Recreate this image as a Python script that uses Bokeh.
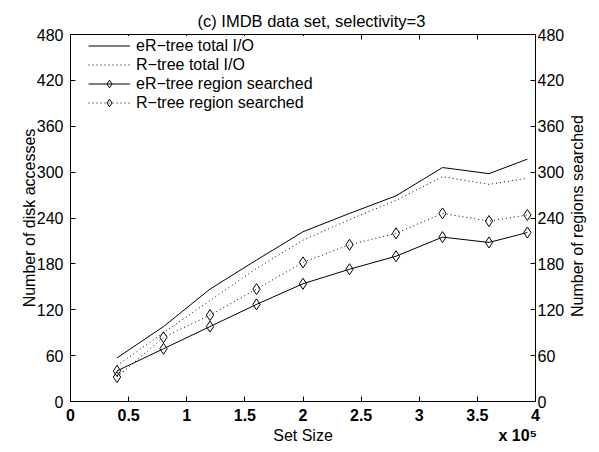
import math
from bokeh.plotting import figure
from bokeh.models import LinearAxis, Range1d, FixedTicker
from bokeh.embed import file_html
from bokeh.resources import INLINE

# ---- data (x in units of 10^5) ----
set_size = [0.4, 0.8, 1.2, 1.6, 2.0, 2.4, 2.8, 3.2, 3.6, 3.93]
er_total_io = [57, 98, 147, 185, 222, 246, 269, 306, 298, 317]
r_total_io = [47, 90, 132, 174, 211, 238, 263, 294, 284, 292]
er_region = [40, 69, 98, 127, 154, 173, 190, 215, 208, 221]
r_region = [32, 84, 113, 147, 182, 205, 220, 246, 236, 244]

x_ticks = [0, 0.5, 1, 1.5, 2, 2.5, 3, 3.5, 4]
x_tick_labels = ["0", "0.5", "1", "1.5", "2", "2.5", "3", "3.5", "4"]
x_exponent = "x 10\u2075"
y_ticks = [0, 60, 120, 180, 240, 300, 360, 420, 480]

FONT = "Liberation Sans"
FS = "16px"
NB = "\u00a0"

p = figure(width=599, height=452, x_range=Range1d(0, 4), y_range=Range1d(0, 480),
           output_backend="svg", toolbar_location=None,
           min_border_left=70, min_border_right=64, min_border_top=34, min_border_bottom=51,
           title="(c) IMDB data set, selectivity=3")
p.extra_y_ranges = {"regions": Range1d(0, 480)}
p.grid.visible = False
p.outline_line_color = "black"
p.background_fill_color = "white"
p.border_fill_color = "white"

p.title.align = "left"
p.title.offset = 127
p.title.standoff = 9
p.title.text_font = FONT
p.title.text_font_size = "16.5px"
p.title.text_font_style = "normal"
p.title.text_color = "black"


def style(ax):
    ax.major_tick_in = 5
    ax.major_tick_out = 0
    ax.minor_tick_in = 0
    ax.minor_tick_out = 0
    ax.axis_line_color = "black"
    ax.major_tick_line_color = "black"
    ax.major_label_text_font = FONT
    ax.major_label_text_font_size = FS
    ax.major_label_text_color = "black"
    ax.axis_label_text_font = FONT
    ax.axis_label_text_font_size = FS
    ax.axis_label_text_font_style = "normal"
    ax.axis_label_text_color = "black"


xa = p.xaxis[0]
style(xa)
xa.ticker = FixedTicker(ticks=x_ticks)
overrides = {t: l for t, l in zip(x_ticks, x_tick_labels)}
# the x 10^5 multiplier sits under the last tick, as in the original
overrides[x_ticks[-1]] = x_tick_labels[-1] + "\n" + x_exponent + NB * 8
xa.major_label_overrides = overrides
xa.major_label_text_font_style = "bold"
xa.major_label_standoff = 5
xa.axis_label = "Set Size"
xa.axis_label_standoff = -20

ya = p.yaxis[0]
style(ya)
ya.ticker = FixedTicker(ticks=y_ticks)
ya.major_label_standoff = 7
ya.axis_label = "Number of disk accesses"
ya.axis_label_standoff = -4

ra = LinearAxis(y_range_name="regions", ticker=FixedTicker(ticks=y_ticks))
style(ra)
ra.major_label_standoff = 2
ra.axis_label_standoff = 10
right_title = "Number of regions searched"
try:
    ra.axis_label_orientation = math.pi / 2
    ra.axis_label_align = "start"
    ra.axis_label = NB * 19 + right_title
except Exception:
    ra.axis_label_orientation = "parallel"
    ra.axis_label = right_title
p.add_layout(ra, "right")

ta = LinearAxis(ticker=FixedTicker(ticks=x_ticks))
style(ta)
ta.major_label_overrides = {t: "" for t in x_ticks}
ta.major_label_standoff = 0
p.add_layout(ta, "above")

# ---- series ----
p.line(set_size, er_total_io, line_color="black", line_width=1, legend_label="eR\u2212tree total I/O")
p.line(set_size, r_total_io, line_color="black", line_width=1, line_dash="1 3",
       legend_label="R\u2212tree total I/O")
p.line(set_size, er_region, y_range_name="regions", line_color="black", line_width=1,
       legend_label="eR\u2212tree region searched")
p.scatter(set_size, er_region, y_range_name="regions", marker="diamond", size=11,
          line_color="black", fill_color=None, line_width=1,
          legend_label="eR\u2212tree region searched")
p.line(set_size, r_region, y_range_name="regions", line_color="black", line_width=1,
       line_dash="1 3", legend_label="R\u2212tree region searched")
p.scatter(set_size, r_region, y_range_name="regions", marker="diamond", size=11,
          line_color="black", fill_color=None, line_width=1,
          legend_label="R\u2212tree region searched")

lg = p.legend[0]
lg.location = (18, 289)
lg.margin = 0
lg.padding = 0
lg.spacing = 0
lg.glyph_width = 42
lg.glyph_height = 19
lg.label_height = 19
lg.label_standoff = 6
lg.label_text_font = FONT
lg.label_text_font_size = FS
lg.label_text_color = "black"
lg.border_line_alpha = 0
lg.background_fill_color = "white"
lg.background_fill_alpha = 1

open("out.html", "w").write(file_html(p, INLINE))
